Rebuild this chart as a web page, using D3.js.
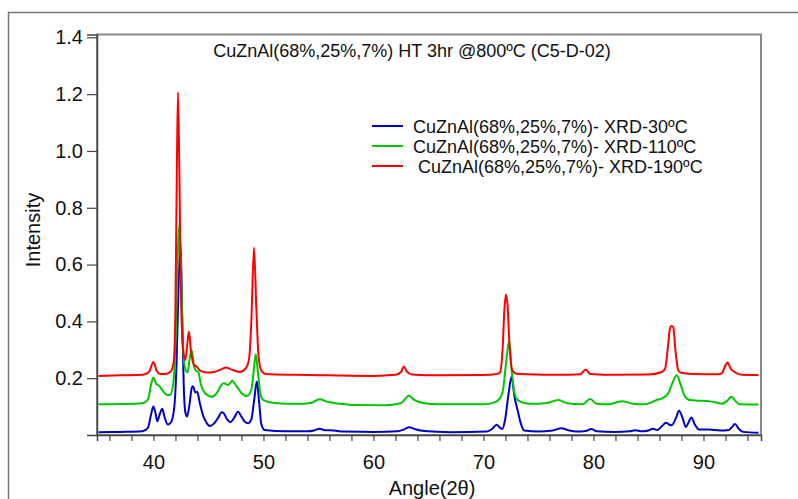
<!DOCTYPE html>
<html>
<head>
<meta charset="utf-8">
<script src="https://cdn.jsdelivr.net/npm/d3@7"></script>
<style>
  body { margin: 0; background: #fff; }
  svg text { font-family: "Liberation Sans", Arial, sans-serif; fill: #111; }
</style>
</head>
<body>
<svg id="chart" width="798" height="499"></svg>
<script>
// XRD traces, [angle 2θ, intensity]
const blueData = [
  [35.0, 0.010], [37.0, 0.011], [39.0, 0.013], [39.5, 0.025], [39.8, 0.075], [40.0, 0.100],
  [40.2, 0.075], [40.35, 0.048], [40.55, 0.070], [40.8, 0.092], [41.0, 0.065], [41.3, 0.037],
  [41.6, 0.045], [41.9, 0.10], [42.1, 0.25], [42.3, 0.55], [42.47, 0.671], [42.6, 0.45],
  [42.75, 0.18], [42.9, 0.08], [43.05, 0.065], [43.25, 0.10], [43.5, 0.168], [43.6, 0.172],
  [43.8, 0.150], [43.98, 0.152], [44.2, 0.115], [44.5, 0.07], [44.8, 0.045], [45.1, 0.032],
  [45.5, 0.040], [45.9, 0.062], [46.2, 0.080], [46.4, 0.076], [46.7, 0.055], [47.0, 0.045],
  [47.3, 0.058], [47.7, 0.082], [47.95, 0.068], [48.3, 0.047], [48.6, 0.041], [48.9, 0.055],
  [49.15, 0.12], [49.4, 0.188], [49.6, 0.12], [49.8, 0.04], [50.1, 0.018], [52.0, 0.013],
  [54.0, 0.013], [54.6, 0.016], [55.1, 0.022], [55.6, 0.017], [56.4, 0.016], [57.2, 0.012],
  [60.0, 0.011], [62.2, 0.013], [62.8, 0.020], [63.25, 0.027], [63.8, 0.020], [64.6, 0.014],
  [67.0, 0.010], [70.3, 0.012], [70.8, 0.022], [71.2, 0.036], [71.5, 0.026], [71.7, 0.021],
  [71.95, 0.05], [72.3, 0.15], [72.56, 0.206], [72.8, 0.14], [73.15, 0.080], [73.4, 0.04],
  [73.7, 0.016], [75.0, 0.012], [76.3, 0.016], [77.1, 0.024], [77.7, 0.017], [78.5, 0.012],
  [79.3, 0.014], [79.8, 0.021], [80.3, 0.013], [82.0, 0.011], [83.3, 0.013], [83.8, 0.017],
  [84.4, 0.013], [85.0, 0.016], [85.4, 0.022], [85.8, 0.018], [86.2, 0.030], [86.6, 0.043],
  [86.9, 0.036], [87.1, 0.034], [87.5, 0.06], [87.77, 0.085], [88.1, 0.06], [88.4, 0.028],
  [88.65, 0.045], [88.9, 0.062], [89.2, 0.038], [89.6, 0.019], [90.5, 0.019], [91.5, 0.016],
  [92.3, 0.018], [92.6, 0.028], [92.86, 0.039], [93.2, 0.022], [93.6, 0.011], [95.0, 0.008]
];

const greenData = [
  [35.0, 0.108], [37.0, 0.109], [39.0, 0.112], [39.5, 0.125], [39.8, 0.18], [40.0, 0.202],
  [40.25, 0.18], [40.5, 0.174], [40.8, 0.158], [41.2, 0.142], [41.5, 0.141], [41.8, 0.18],
  [42.0, 0.32], [42.2, 0.62], [42.35, 0.742], [42.5, 0.6], [42.65, 0.35], [42.85, 0.24],
  [43.1, 0.22], [43.3, 0.27], [43.47, 0.30], [43.7, 0.24], [43.9, 0.225], [44.07, 0.223],
  [44.3, 0.18], [44.7, 0.147], [45.3, 0.135], [45.8, 0.150], [46.1, 0.172], [46.4, 0.182],
  [46.8, 0.176], [47.16, 0.191], [47.5, 0.175], [48.0, 0.148], [48.5, 0.137], [48.9, 0.16],
  [49.1, 0.22], [49.3, 0.284], [49.5, 0.22], [49.75, 0.14], [50.0, 0.123], [51.0, 0.113],
  [53.0, 0.110], [54.3, 0.113], [55.1, 0.126], [55.8, 0.117], [57.0, 0.110], [58.0, 0.106],
  [61.0, 0.105], [62.5, 0.112], [62.9, 0.128], [63.2, 0.138], [63.7, 0.124], [64.5, 0.113],
  [66.0, 0.108], [70.0, 0.108], [71.0, 0.115], [71.5, 0.129], [71.8, 0.164], [72.1, 0.27],
  [72.35, 0.333], [72.56, 0.229], [72.86, 0.141], [73.1, 0.124], [73.6, 0.114], [74.3, 0.110],
  [75.8, 0.113], [76.8, 0.123], [77.6, 0.112], [79.0, 0.108], [79.7, 0.127], [80.3, 0.110],
  [81.3, 0.108], [82.6, 0.119], [83.5, 0.111], [84.5, 0.108], [85.3, 0.115], [85.7, 0.123],
  [86.2, 0.128], [86.8, 0.147], [87.2, 0.185], [87.57, 0.210], [87.9, 0.18], [88.3, 0.137],
  [88.77, 0.123], [89.5, 0.121], [90.3, 0.120], [91.0, 0.116], [91.65, 0.110], [92.2, 0.122],
  [92.56, 0.135], [92.9, 0.120], [93.3, 0.108], [95.0, 0.107]
];

const redData = [
  [35.0, 0.208], [37.0, 0.210], [39.0, 0.212], [39.6, 0.222], [40.0, 0.257], [40.3, 0.225],
  [40.6, 0.215], [41.2, 0.216], [41.6, 0.225], [41.85, 0.26], [42.0, 0.45], [42.12, 0.9],
  [42.23, 1.207], [42.35, 0.95], [42.5, 0.5], [42.7, 0.3], [42.9, 0.264], [43.05, 0.31],
  [43.23, 0.364], [43.4, 0.30], [43.7, 0.246], [43.93, 0.241], [44.2, 0.228], [44.84, 0.220],
  [45.5, 0.222], [46.2, 0.232], [46.6, 0.238], [47.0, 0.232], [47.86, 0.222], [48.4, 0.235],
  [48.7, 0.27], [48.9, 0.40], [49.14, 0.66], [49.35, 0.45], [49.55, 0.28], [49.8, 0.228],
  [50.2, 0.215], [53.0, 0.212], [56.0, 0.210], [60.0, 0.208], [62.0, 0.212], [62.5, 0.222],
  [62.77, 0.241], [63.0, 0.225], [63.5, 0.213], [66.0, 0.210], [70.0, 0.211], [71.2, 0.215],
  [71.5, 0.22], [71.75, 0.31], [71.9, 0.44], [72.05, 0.495], [72.2, 0.45], [72.35, 0.33],
  [72.6, 0.23], [73.0, 0.216], [74.0, 0.214], [77.0, 0.212], [78.8, 0.214], [79.3, 0.231],
  [79.7, 0.215], [82.0, 0.212], [85.0, 0.213], [86.2, 0.222], [86.5, 0.232], [86.8, 0.32],
  [86.95, 0.375], [87.1, 0.384], [87.25, 0.38], [87.45, 0.30], [87.7, 0.229], [87.9, 0.220],
  [89.0, 0.215], [91.3, 0.214], [91.65, 0.217], [92.0, 0.245], [92.2, 0.255], [92.45, 0.235],
  [92.86, 0.221], [93.5, 0.212], [95.0, 0.211]
];

const seriesNames = [
  'CuZnAl(68%,25%,7%)- XRD-30ºC',
  'CuZnAl(68%,25%,7%)- XRD-110ºC',
  ' CuZnAl(68%,25%,7%)- XRD-190ºC'
];
const seriesColors = ['#0000c8', '#00c800', '#ff0000'];
const yTicks = [0.2, 0.4, 0.6, 0.8, 1.0, 1.2, 1.4];
const xMinorTicks = d3.range(36, 95, 2);
const chartTitle = 'CuZnAl(68%,25%,7%) HT 3hr @800ºC (C5-D-02)';

const conf = {
  left: 97,
  right: 761,
  top: 34.5,
  bottom: 435
};

const svg = d3.select('#chart');

// outer frame that runs off the page
svg.append('rect')
  .attr('x', 8.5)
  .attr('y', 12.5)
  .attr('width', 820)
  .attr('height', 520)
  .attr('fill', 'none')
  .attr('stroke', '#777')
  .attr('stroke-width', 1.5);

const x = d3.scaleLinear().domain([34.87, 95.23]).range([conf.left, conf.right]);
const y = d3.scaleLinear().domain([0, 1.41]).range([conf.bottom, conf.top]);

// plot box
svg.append('rect')
  .attr('x', conf.left)
  .attr('y', conf.top)
  .attr('width', conf.right - conf.left)
  .attr('height', conf.bottom - conf.top)
  .attr('fill', 'none')
  .attr('stroke', '#888')
  .attr('stroke-width', 2);

const lineFunction = d3
  .line()
  .x(d => x(d[0]))
  .y(d => y(d[1]))
  .curve(d3.curveMonotoneX);

[blueData, greenData, redData].forEach((data, i) => {
  svg.append('path')
    .attr('d', lineFunction(data))
    .attr('fill', 'none')
    .attr('stroke', seriesColors[i])
    .attr('stroke-width', 2)
    .attr('stroke-linejoin', 'round');
});

// axes
const yAxis = svg.append('g')
  .attr('transform', 'translate(' + conf.left + ',0)')
  .call(d3.axisLeft(y).tickValues(yTicks).tickFormat(d3.format('.1f')).tickSize(10).tickPadding(4));

const xAxis = svg.append('g')
  .attr('transform', 'translate(0,' + conf.bottom + ')')
  .call(d3.axisBottom(x).tickValues(xMinorTicks)
    .tickFormat(d => (d % 10 === 0 ? d : ''))
    .tickSize(6).tickPadding(14));

[yAxis, xAxis].forEach(ax => {
  ax.select('.domain').attr('stroke', '#444').attr('stroke-width', 1.5);
  ax.selectAll('.tick line').attr('stroke', '#444').attr('stroke-width', 1.2);
  ax.selectAll('.tick text')
    .attr('font-size', 20)
    .attr('fill', '#111')
    .attr('font-family', '"Liberation Sans", Arial, sans-serif');
});

// title
svg.append('text')
  .attr('x', 412)
  .attr('y', 57)
  .attr('text-anchor', 'middle')
  .attr('font-size', 18)
  .text(chartTitle);

// axis titles
svg.append('text')
  .attr('transform', 'translate(40,230) rotate(-90)')
  .attr('text-anchor', 'middle')
  .attr('font-size', 20)
  .text('Intensity');

svg.append('text')
  .attr('x', 432)
  .attr('y', 495)
  .attr('text-anchor', 'middle')
  .attr('font-size', 20)
  .text('Angle(2θ)');

// legend
const legend = svg.append('g').attr('transform', 'translate(372,126)');
seriesNames.forEach((name, i) => {
  legend.append('line')
    .attr('x1', 0)
    .attr('x2', 31)
    .attr('y1', i * 20)
    .attr('y2', i * 20)
    .attr('stroke', seriesColors[i])
    .attr('stroke-width', 2);
  legend.append('text')
    .attr('x', 41)
    .attr('y', i * 20 + 6.5)
    .attr('font-size', 18)
    .style('white-space', 'pre')
    .text(name);
});
</script>
</body>
</html>
